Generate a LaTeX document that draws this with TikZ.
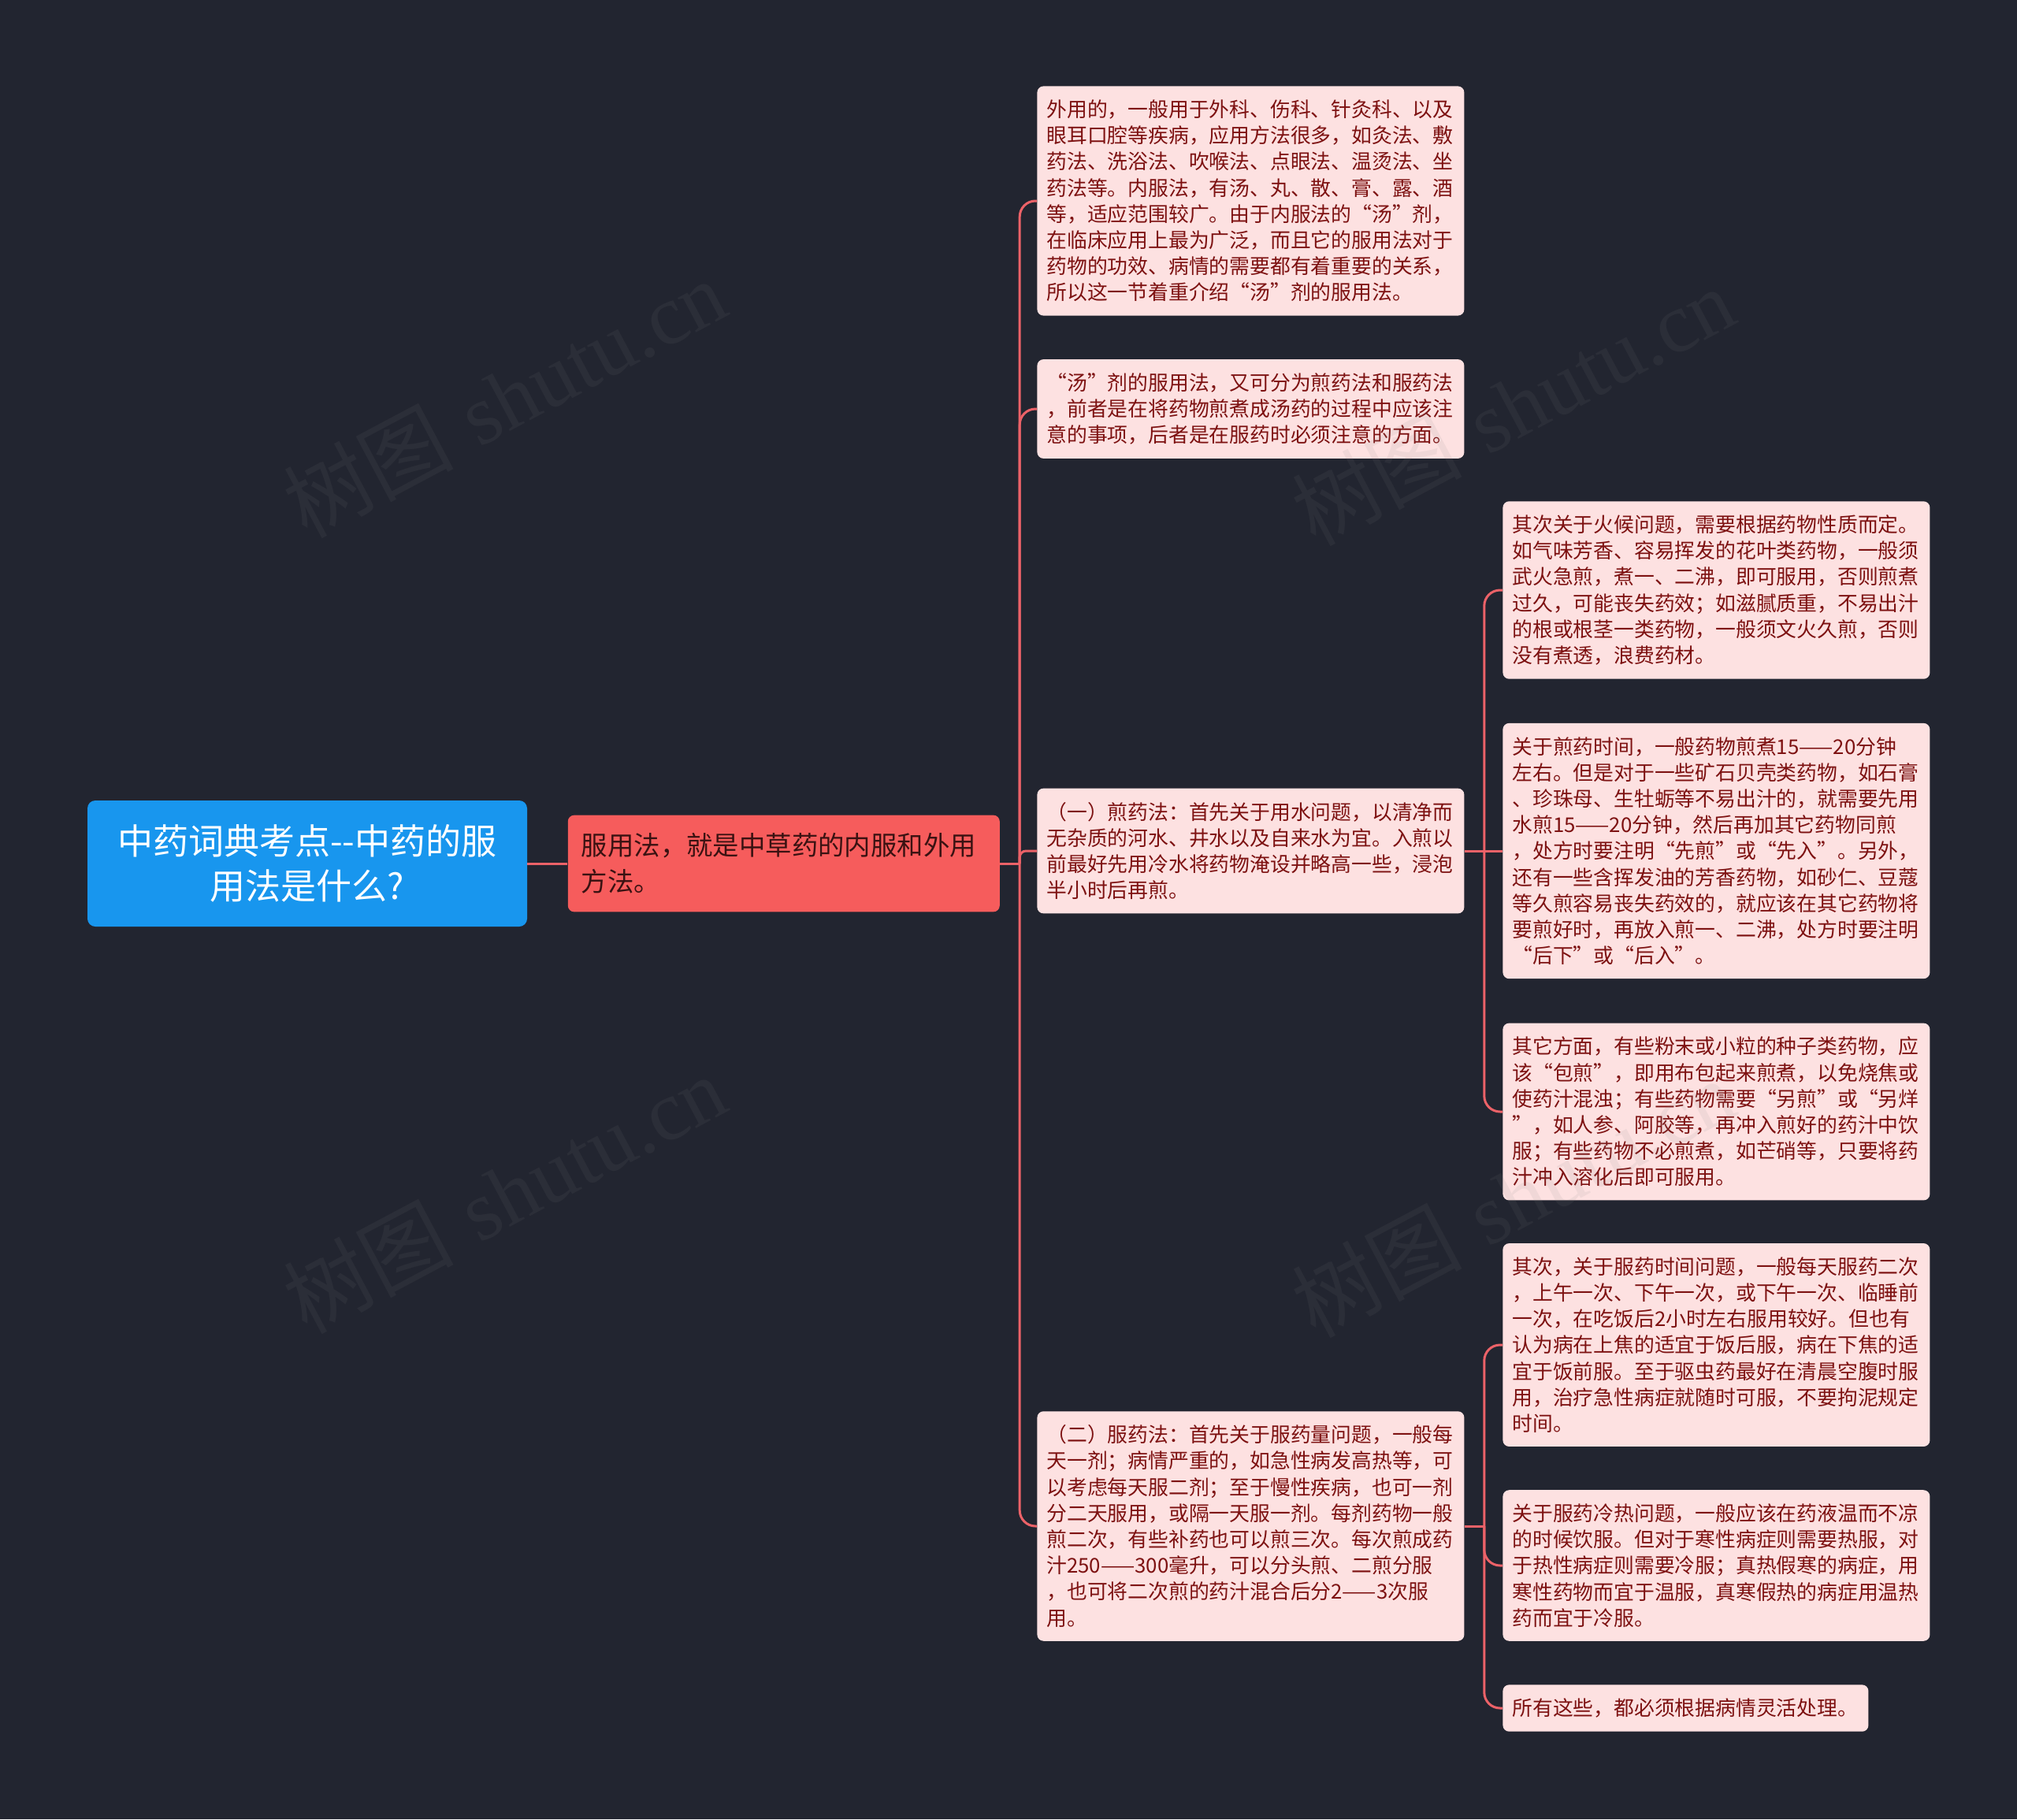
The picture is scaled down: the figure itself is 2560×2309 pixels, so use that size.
\documentclass[tikz,border=0pt]{standalone}
\usepackage{fontspec}
\usetikzlibrary{positioning}
\newfontfamily\cjk{Noto Sans CJK SC}
\newfontfamily\wmfont{Liberation Serif}
\definecolor{bgdark}{RGB}{34,37,48}
\definecolor{rootblue}{RGB}{24,150,238}
\definecolor{topicred}{RGB}{246,92,92}
\definecolor{topictext}{RGB}{58,18,18}
\definecolor{leafpink}{RGB}{253,225,225}
\definecolor{leaftext}{RGB}{125,17,17}
\definecolor{linkred}{RGB}{236,98,104}
\tikzset{
  rootbox/.style={fill=rootblue, rounded corners=5pt, align=center, text=white, minimum width=279pt, minimum height=80pt, font=\cjk\fontsize{22.5}{28.5}\selectfont},
  topicbox/.style={fill=topicred, rounded corners=4pt, align=left, text=topictext, text width=257pt, inner xsep=8.5pt, inner ysep=11.5pt, font=\cjk\fontsize{16.7}{22.9}\selectfont},
  leaf/.style={fill=leafpink, rounded corners=4pt, align=left, text=leaftext, text width=259pt, inner xsep=6pt, inner ysep=8.7pt, anchor=west, font=\cjk\fontsize{12.9}{16.6}\selectfont},
  link/.style={draw=linkred, line width=1.5pt},
  wmark/.style={text=gray, opacity=0.1, rotate=28, font=\fontsize{54}{54}\selectfont}
}
\begin{document}
\begin{tikzpicture}[x=0.5pt, y=-0.5pt]
  \fill[bgdark] (0,0) rectangle (2560,2309);
  \useasboundingbox (0,0) rectangle (2560,2309);

  \node[rootbox] (root) at (390,1096) {中药词典考点-{}-中药的服\\用法是什么?};
  \node[topicbox, right=25.5pt of root] (topic) {服用法，就是中草药的内服和外用\\方法。};

  % first level
  \node[leaf] (waiyong) at (1316,255) {外用的，一般用于外科、伤科、针灸科、以及\\眼耳口腔等疾病，应用方法很多，如灸法、敷\\药法、洗浴法、吹喉法、点眼法、温烫法、坐\\药法等。内服法，有汤、丸、散、膏、露、酒\\等，适应范围较广。由于内服法的“汤”剂，\\在临床应用上最为广泛，而且它的服用法对于\\药物的功效、病情的需要都有着重要的关系，\\所以这一节着重介绍“汤”剂的服用法。};
  \node[leaf] (tangji) at (1316,519) {“汤”剂的服用法，又可分为煎药法和服药法\\，前者是在将药物煎煮成汤药的过程中应该注\\意的事项，后者是在服药时必须注意的方面。};
  \node[leaf] (jianyao) at (1316,1080) {（一）煎药法：首先关于用水问题，以清净而\\无杂质的河水、井水以及自来水为宜。入煎以\\前最好先用冷水将药物淹设并略高一些，浸泡\\半小时后再煎。};
  \node[leaf] (fuyao) at (1316,1937) {（二）服药法：首先关于服药量问题，一般每\\天一剂；病情严重的，如急性病发高热等，可\\以考虑每天服二剂；至于慢性疾病，也可一剂\\分二天服用，或隔一天服一剂。每剂药物一般\\煎二次，有些补药也可以煎三次。每次煎成药\\汁250——300毫升，可以分头煎、二煎分服\\，也可将二次煎的药汁混合后分2——3次服\\用。};

  % second level
  \node[leaf] (huohou) at (1907,749) {其次关于火候问题，需要根据药物性质而定。\\如气味芳香、容易挥发的花叶类药物，一般须\\武火急煎，煮一、二沸，即可服用，否则煎煮\\过久，可能丧失药效；如滋腻质重，不易出汁\\的根或根茎一类药物，一般须文火久煎，否则\\没有煮透，浪费药材。};
  \node[leaf] (shijian) at (1907,1080) {关于煎药时间，一般药物煎煮15——20分钟\\左右。但是对于一些矿石贝壳类药物，如石膏\\、珍珠母、生牡蛎等不易出汁的，就需要先用\\水煎15——20分钟，然后再加其它药物同煎\\，处方时要注明“先煎”或“先入”。另外，\\还有一些含挥发油的芳香药物，如砂仁、豆蔻\\等久煎容易丧失药效的，就应该在其它药物将\\要煎好时，再放入煎一、二沸，处方时要注明\\“后下”或“后入”。};
  \node[leaf] (qita) at (1907,1411) {其它方面，有些粉末或小粒的种子类药物，应\\该“包煎”，即用布包起来煎煮，以免烧焦或\\使药汁混浊；有些药物需要“另煎”或“另烊\\”，如人参、阿胶等，再冲入煎好的药汁中饮\\服；有些药物不必煎煮，如芒硝等，只要将药\\汁冲入溶化后即可服用。};
  \node[leaf] (fushi) at (1907,1707) {其次，关于服药时间问题，一般每天服药二次\\，上午一次、下午一次，或下午一次、临睡前\\一次，在吃饭后2小时左右服用较好。但也有\\认为病在上焦的适宜于饭后服，病在下焦的适\\宜于饭前服。至于驱虫药最好在清晨空腹时服\\用，治疗急性病症就随时可服，不要拘泥规定\\时间。};
  \node[leaf] (lengre) at (1907,1987) {关于服药冷热问题，一般应该在药液温而不凉\\的时候饮服。但对于寒性病症则需要热服，对\\于热性病症则需要冷服；真热假寒的病症，用\\寒性药物而宜于温服，真寒假热的病症用温热\\药而宜于冷服。};
  \node[leaf, text width=220pt] (linghuo) at (1907,2168) {所有这些，都必须根据病情灵活处理。};

  % connectors
  \draw[link] (root) -- (topic);
  \path (topic.east) ++(12.5pt,0) coordinate (j1);
  \path (jianyao.east) ++(12.5pt,0) coordinate (j2);
  \path (fuyao.east) ++(12.5pt,0) coordinate (j3);
  \draw[link] (topic) -- (j1);
  \foreach \k/\r in {waiyong/10pt,tangji/10pt,jianyao/4pt,fuyao/10pt}
    \draw[link, rounded corners=\r] (j1) |- (\k);
  \draw[link] (jianyao) -- (shijian);
  \foreach \k in {huohou,qita}
    \draw[link, rounded corners=10pt] (j2) |- (\k);
  \draw[link] (fuyao) -- (j3);
  \foreach \k in {fushi,lengre,linghuo}
    \draw[link, rounded corners=10pt] (j3) |- (\k);

  % watermark
  \node[wmark] (wm1) at (640,505) {{\cjk 树图} {\wmfont shutu.cn}};
  \node[wmark] (wm2) at (1920,515) {{\cjk 树图} {\wmfont shutu.cn}};
  \node[wmark] (wm3) at (640,1515) {{\cjk 树图} {\wmfont shutu.cn}};
  \node[wmark] (wm4) at (1920,1520) {{\cjk 树图} {\wmfont shutu.cn}};
\end{tikzpicture}
\end{document}
